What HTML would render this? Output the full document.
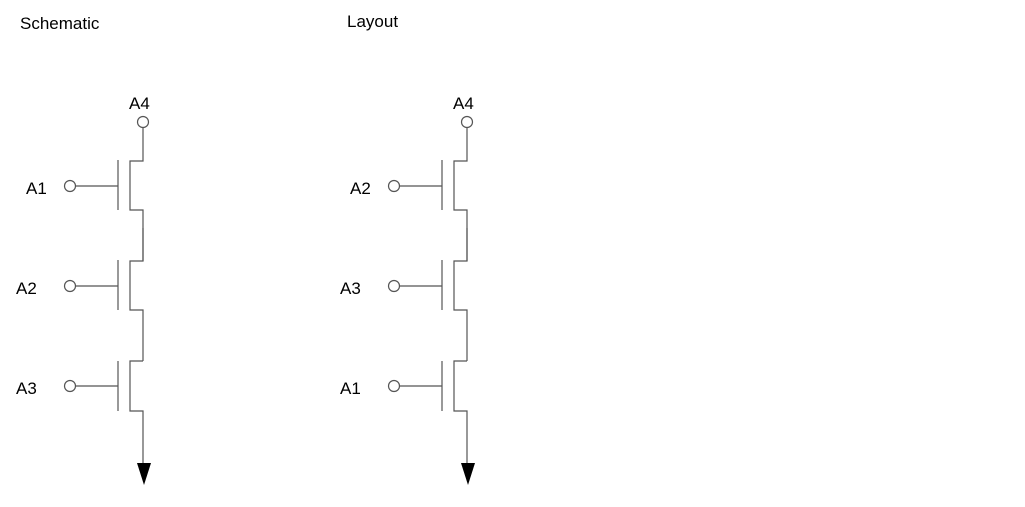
<!DOCTYPE html>
<html><head><style>
body{margin:0;background:#fff;width:1025px;height:507px;overflow:hidden}
svg{position:absolute;left:0;top:0}
text{font-family:"Liberation Sans",sans-serif;font-size:17px;fill:#000}
</style></head><body>
<svg width="1025" height="507" viewBox="0 0 1025 507">
<defs>
<g id="tr" stroke="#555" stroke-width="1.2" fill="none">
<polyline points="143,128 143,161 130,161 130,210 143,210 143,261"/>
<line x1="118" y1="160" x2="118" y2="210"/>
<line x1="76" y1="186" x2="118" y2="186"/>
<circle cx="70" cy="186" r="5.5" fill="#fff"/>
</g>
</defs>
<text x="20" y="29">Schematic</text>
<text x="347" y="27">Layout</text>

<g>
<text x="129" y="109">A4</text>
<circle cx="143" cy="122" r="5.5" fill="#fff" stroke="#555" stroke-width="1.2"/>
<use href="#tr"/>
<use href="#tr" y="100"/>
<g stroke="#555" stroke-width="1.2" fill="none">
<polyline points="143,361 130,361 130,411 143,411 143,463"/>
<line x1="118" y1="361" x2="118" y2="411"/>
<line x1="76" y1="386" x2="118" y2="386"/>
<circle cx="70" cy="386" r="5.5" fill="#fff"/>
</g>
<polygon points="137,463 151,463 144,485" fill="#000"/>
<text x="26" y="194">A1</text>
<text x="16" y="294">A2</text>
<text x="16" y="394">A3</text>
</g>

<g transform="translate(324,0)">
<text x="129" y="109">A4</text>
<circle cx="143" cy="122" r="5.5" fill="#fff" stroke="#555" stroke-width="1.2"/>
<use href="#tr"/>
<use href="#tr" y="100"/>
<g stroke="#555" stroke-width="1.2" fill="none">
<polyline points="143,361 130,361 130,411 143,411 143,463"/>
<line x1="118" y1="361" x2="118" y2="411"/>
<line x1="76" y1="386" x2="118" y2="386"/>
<circle cx="70" cy="386" r="5.5" fill="#fff"/>
</g>
<polygon points="137,463 151,463 144,485" fill="#000"/>
<text x="26" y="194">A2</text>
<text x="16" y="294">A3</text>
<text x="16" y="394">A1</text>
</g>
</svg>
</body></html>
